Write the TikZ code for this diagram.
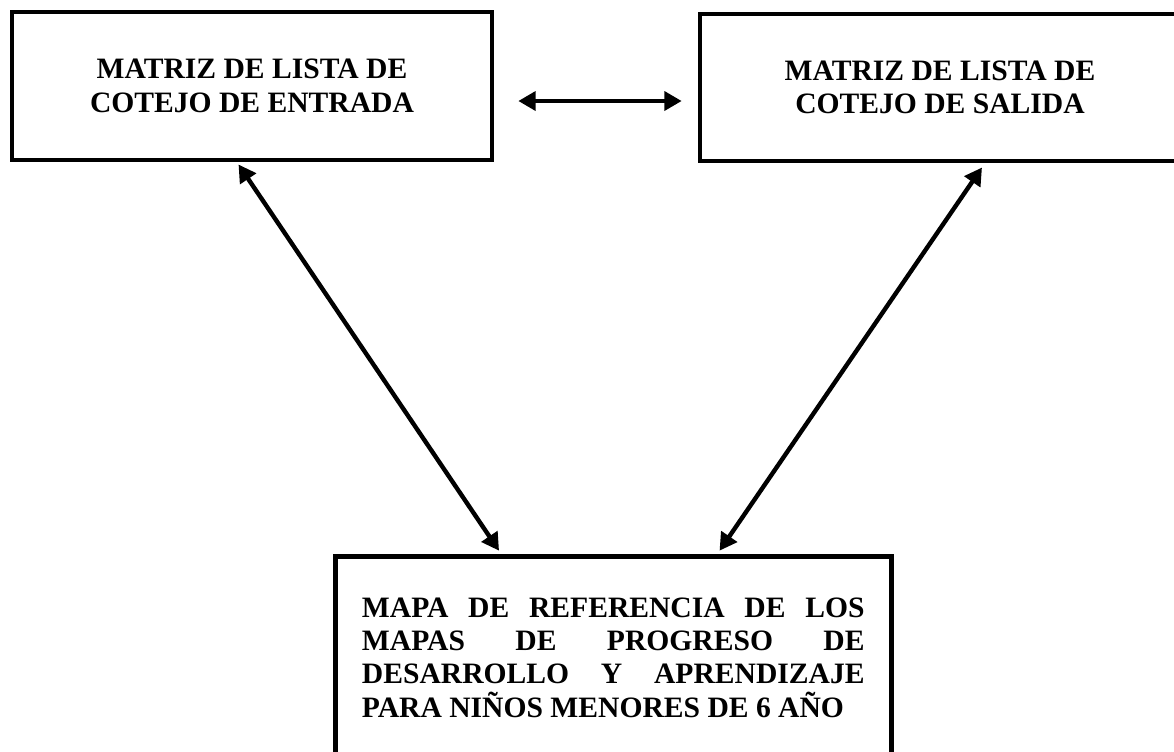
\documentclass[tikz,border=0pt]{standalone}
\usepackage{fontspec}
\setmainfont{Liberation Serif}
\usetikzlibrary{arrows.meta,calc}
\hyphenpenalty=10000
\exhyphenpenalty=10000
\tolerance=10000
\begin{document}
\begin{tikzpicture}[x=0.75pt,y=-0.75pt,
    caja/.style={draw,line width=3.4pt,font=\fontsize{22.2}{25}\selectfont\bfseries},
    enlace/.style={line width=3.3pt,{Triangle[length=13pt,width=14pt]}-{Triangle[length=13pt,width=14pt]}}]
  \useasboundingbox (0,0) rectangle (1174,751);
  \node (entrada) [caja,minimum width=360pt,minimum height=111pt,align=center] at (252,86) {MATRIZ DE LISTA DE\\COTEJO DE ENTRADA};
  \node (salida) [caja,minimum width=360pt,minimum height=110pt,align=center] at (940,87.5) {MATRIZ DE LISTA DE\\COTEJO DE SALIDA};
  \node (mapa) [caja,anchor=north west,text width=377pt,align=justify,inner xsep=20pt,inner ysep=31pt,text depth=150pt] at (333,554)
    {MAPA DE REFERENCIA DE LOS\linebreak MAPAS DE PROGRESO DE\linebreak DESARROLLO Y APRENDIZAJE\linebreak PARA NIÑOS MENORES DE 6 AÑO};
  \draw[enlace] ($(entrada.east)+(24,15)$) -- ($(entrada.east -| salida.west)+(-16,15)$);
  \draw[enlace,shorten <=2pt,shorten >=3pt] ($(entrada.south)+(-15,0)$) -- ($(mapa.north)+(-112,0)$);
  \draw[enlace,shorten <=4pt,shorten >=3pt] ($(salida.south)+(45,0)$) -- ($(mapa.north)+(104,0)$);
\end{tikzpicture}
\end{document}
